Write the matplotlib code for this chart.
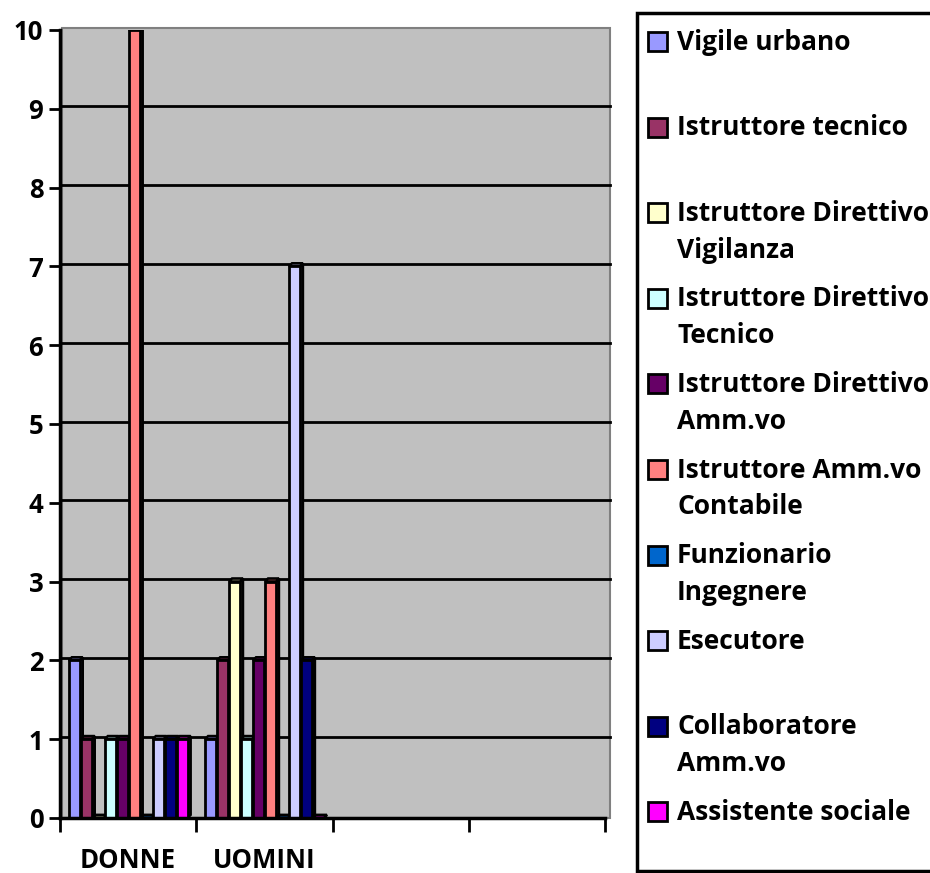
import numpy as np
import matplotlib.pyplot as plt
from matplotlib.patches import Polygon, Rectangle
from matplotlib.colors import to_rgb

plt.rcParams['font.family'] = ['Open Sans', 'DejaVu Sans']
plt.rcParams['font.weight'] = 'bold'

# categories on the x axis (two empty slots at the end)
categories = ['DONNE', 'UOMINI', '', '']

series = ['Vigile urbano', 'Istruttore tecnico', 'Istruttore Direttivo\nVigilanza',
          'Istruttore Direttivo\nTecnico', 'Istruttore Direttivo\nAmm.vo',
          'Istruttore Amm.vo\nContabile', 'Funzionario\nIngegnere', 'Esecutore',
          'Collaboratore\nAmm.vo', 'Assistente sociale']

donne = [2, 1, 0, 1, 1, 10, 0, 1, 1, 1]
uomini = [1, 2, 3, 1, 2, 3, 0, 7, 2, 0]

colors = ['#9999FF', '#993366', '#FFFFCC', '#CCFFFF', '#660066',
          '#FF8080', '#0066CC', '#CCCCFF', '#000080', '#FF00FF']

W, H = 930, 873
fig = plt.figure(figsize=(W / 100, H / 100), dpi=100)

# main plot area in pixel positions
x0, x1, y0, y1 = 60, 605, 818, 30
ax = fig.add_axes([x0 / W, (H - y0) / H, (x1 - x0) / W, (y0 - y1) / H])
ax.set_xlim(0, len(categories))
ax.set_ylim(0, 10)
ax.set_facecolor('none')

# back wall, slightly shifted to suggest depth
ax.add_patch(Rectangle((0.015, 0), len(categories) - 0.015 + 0.035, 10.03,
                       facecolor='#C0C0C0', edgecolor='#808080', lw=1.5,
                       zorder=0, clip_on=False))
for v in range(1, 10):
    ax.plot([0.015, len(categories) + 0.035], [v + 0.03, v + 0.03],
            color='black', lw=2, zorder=1, clip_on=False)


def shade(c, f=0.55):
    r, g, b = to_rgb(c)
    return (r * f, g * f, b * f)


def bar3d(x, h, w, color, dx=0.022, dy=0.04):
    ax.add_patch(Polygon([(x + w, 0), (x + w + dx, dy), (x + w + dx, h + dy), (x + w, h)],
                         closed=True, facecolor=shade(color), edgecolor='black',
                         lw=1.8, zorder=3))
    ax.add_patch(Polygon([(x, h), (x + dx, h + dy), (x + w + dx, h + dy), (x + w, h)],
                         closed=True, facecolor=shade(color), edgecolor='black',
                         lw=1.8, zorder=3))
    ax.bar(x, h, width=w, align='edge', color=color, edgecolor='black',
           lw=2, zorder=3)


pitch = 0.088
bw = 0.08
for ci, vals in enumerate([donne, uomini]):
    start = ci + 0.5 - pitch * len(series) / 2 + 0.005
    for j, v in enumerate(vals):
        bar3d(start + j * pitch, v, bw, colors[j])

for s in ['top', 'right']:
    ax.spines[s].set_visible(False)
for s in ['left', 'bottom']:
    ax.spines[s].set_linewidth(2.5)
    ax.spines[s].set_zorder(5)

ax.set_yticks(range(0, 11))
ax.set_yticklabels([str(v) for v in range(0, 11)], fontsize=18.5, fontweight='bold')
ax.set_xticks(range(0, len(categories) + 1))
ax.set_xticklabels([])
ax.set_xticks(np.arange(len(categories)) + 0.5, minor=True)
ax.set_xticklabels(categories, minor=True, fontsize=18.5, fontweight='bold')
ax.tick_params(axis='x', which='minor', length=0, pad=21)
ax.tick_params(axis='x', which='major', length=10, width=2, direction='out')
ax.tick_params(axis='y', length=8, width=2, pad=4)

# legend panel drawn in pixel coordinates
lx = 636
lax = fig.add_axes([lx / W, 0, 1 - lx / W, 1])
lax.set_xlim(lx, W)
lax.set_ylim(H, 0)
lax.axis('off')
lax.add_patch(Rectangle((637, 13), 320, 858, facecolor='white', edgecolor='black',
                        lw=2.5, clip_on=False))
for i, (name, c) in enumerate(zip(series, colors)):
    yc = 42 + i * 85.6
    lax.add_patch(Rectangle((648, yc - 10), 19, 19, facecolor=c, edgecolor='black', lw=2))
    for k, line in enumerate(name.split('\n')):
        lax.text(677, yc + k * 37, line, fontsize=19, fontweight='bold',
                 va='center', ha='left')

fig.savefig('out.png', dpi=100)
